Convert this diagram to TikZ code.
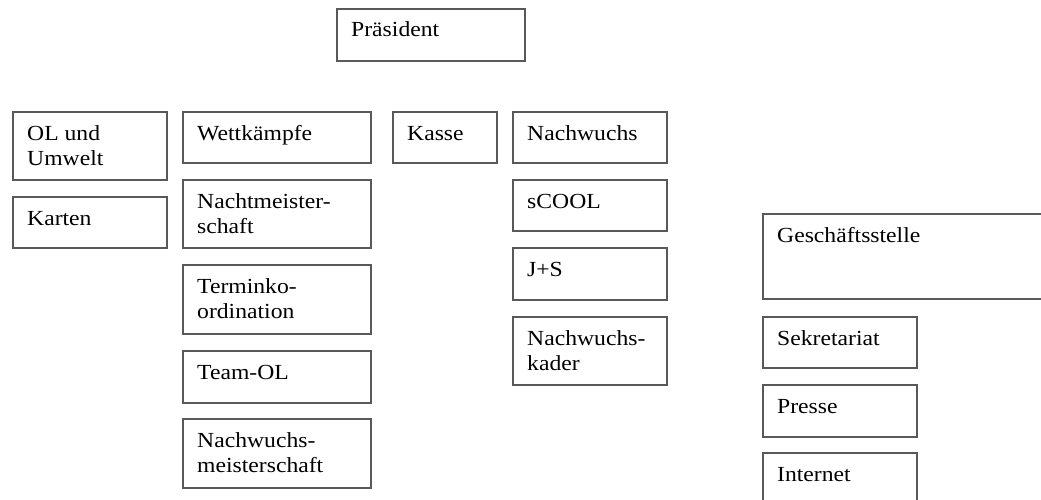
\documentclass[tikz,border=0pt]{standalone}
\usepackage{fontspec}
\setmainfont{Liberation Serif}[FakeStretch=1.1]
\tikzset{
  boxst/.style={draw=black!65, line width=1.3pt, rectangle, inner sep=0pt, fill=white},
  txtst/.style={anchor=base west, inner sep=0pt, align=left, text=black,
    font=\fontsize{21.5}{25}\selectfont}
}
% #7 = extra lines below the first one
\newcommand\obox[7]{%
  \pgfmathsetmacro\bw{#4-#2}\pgfmathsetmacro\bh{#5-#3}%
  \node[boxst, minimum width=\bw pt, minimum height=\bh pt] (#1) at ({(#2+#4)/2},{(#3+#5)/2}) {};
  \node[txtst] (#1t) at ({#2+14},{#3+28+25*#7}) {#6};}
\begin{document}
\begin{tikzpicture}[x=1pt,y=-1pt]
\useasboundingbox (0,0) rectangle (1041,500);
\obox{praes}{337}{9}{525}{61}{Präsident}{0}
\obox{olu}{13}{112}{167}{180}{OL und\\Umwelt}{1}
\obox{kart}{13}{197}{167}{248}{Karten}{0}
\obox{wett}{183}{112}{371}{163}{Wettkämpfe}{0}
\obox{nacht}{183}{180}{371}{248}{Nachtmeister-\\schaft}{1}
\obox{term}{183}{265}{371}{334}{Terminko-\\ordination}{1}
\obox{team}{183}{351}{371}{403}{Team-OL}{0}
\obox{nwm}{183}{419}{371}{488}{Nachwuchs-\\meisterschaft}{1}
\obox{kasse}{393}{112}{497}{163}{Kasse}{0}
\obox{nw}{513}{112}{667}{163}{Nachwuchs}{0}
\obox{scool}{513}{180}{667}{231}{sCOOL}{0}
\obox{js}{513}{248}{667}{300}{J+S}{0}
\obox{nwk}{513}{317}{667}{385}{Nachwuchs-\\kader}{1}
\obox{gs}{763}{214}{1046}{299}{Geschäftsstelle}{0}
\obox{sek}{763}{317}{917}{368}{Sekretariat}{0}
\obox{presse}{763}{385}{917}{437}{Presse}{0}
\obox{inet}{763}{453}{917}{506}{Internet}{0}
\end{tikzpicture}
\end{document}
